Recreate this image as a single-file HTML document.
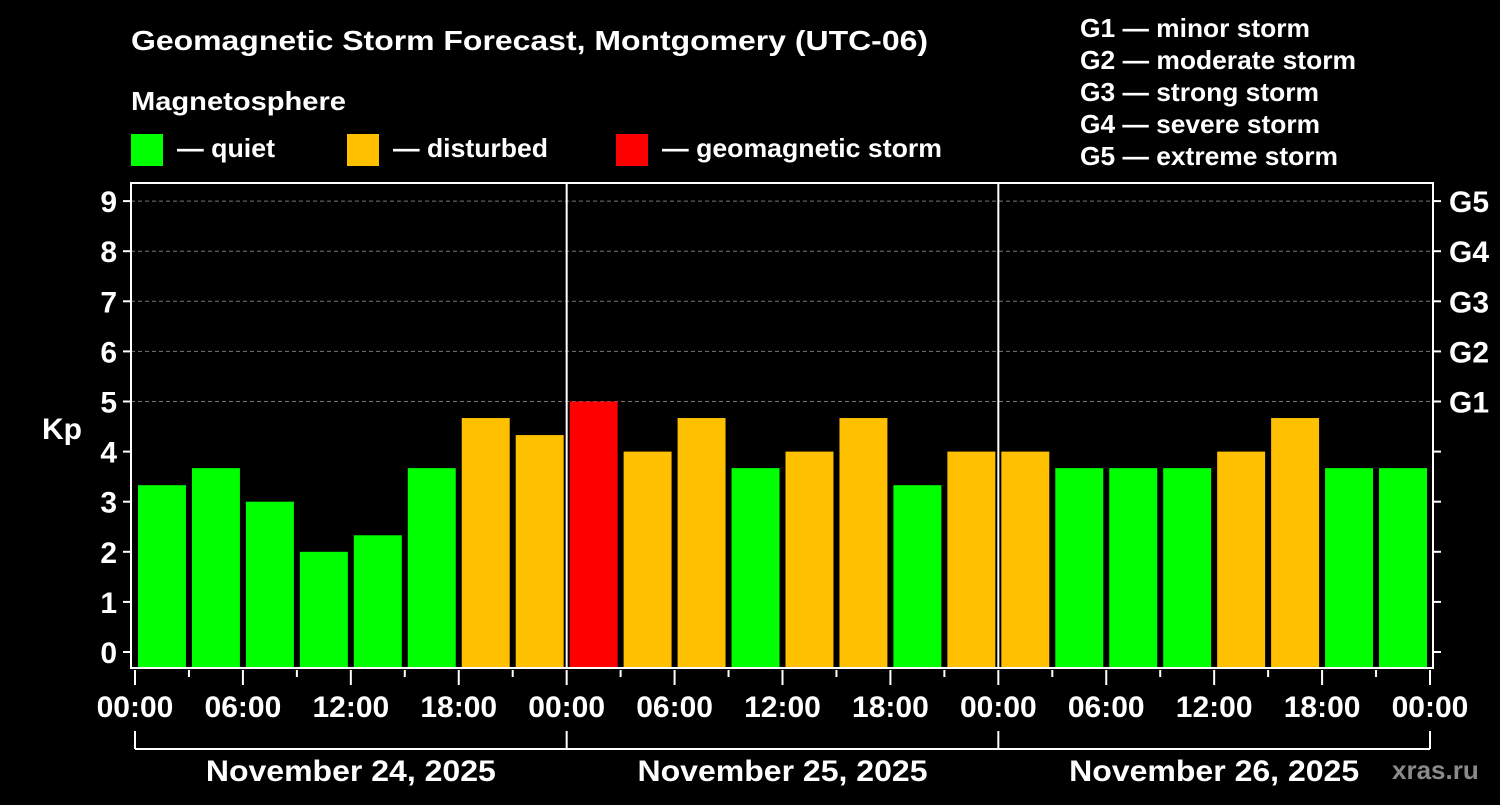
<!DOCTYPE html>
<html><head><meta charset="utf-8"><style>
body{margin:0;background:#000;width:1500px;height:800px;overflow:hidden}
svg text{font-family:"Liberation Sans",Arial,sans-serif;font-weight:bold;fill:#fff}
</style></head><body>
<svg id="chart" width="1500" height="800" xmlns="http://www.w3.org/2000/svg">
<rect width="1500" height="800" fill="#000"/>
<text x="131" y="50" font-size="28" textLength="797" lengthAdjust="spacingAndGlyphs">Geomagnetic Storm Forecast, Montgomery (UTC-06)</text>
<text x="131" y="110" font-size="26" textLength="215" lengthAdjust="spacingAndGlyphs">Magnetosphere</text>
<g><rect x="131" y="134" width="32" height="32" fill="#00ff00"/><text x="177" y="157" font-size="26" textLength="98" lengthAdjust="spacingAndGlyphs">— quiet</text></g>
<g><rect x="347" y="134" width="32" height="32" fill="#ffc000"/><text x="393" y="157" font-size="26" textLength="155" lengthAdjust="spacingAndGlyphs">— disturbed</text></g>
<g><rect x="616" y="134" width="32" height="32" fill="#ff0000"/><text x="662" y="157" font-size="26" textLength="280" lengthAdjust="spacingAndGlyphs">— geomagnetic storm</text></g>
<g font-size="26">
<text x="1080" y="37" textLength="230" lengthAdjust="spacingAndGlyphs">G1 — minor storm</text>
<text x="1080" y="69" textLength="276" lengthAdjust="spacingAndGlyphs">G2 — moderate storm</text>
<text x="1080" y="101" textLength="239" lengthAdjust="spacingAndGlyphs">G3 — strong storm</text>
<text x="1080" y="133" textLength="240" lengthAdjust="spacingAndGlyphs">G4 — severe storm</text>
<text x="1080" y="165" textLength="258" lengthAdjust="spacingAndGlyphs">G5 — extreme storm</text>
</g>
<text x="42" y="439" font-size="30">Kp</text>
<text x="1392" y="779" font-size="26" style="fill:#8a8a8a">xras.ru</text>
<g id="grid"></g><g id="bars"></g><g id="axes"></g>
</svg>
<script>
const kpValues=[3.33,3.67,3,2,2.33,3.67,4.67,4.33, 5,4,4.67,3.67,4,4.67,3.33,4, 4,3.67,3.67,3.67,4,4.67,3.67,3.67];
const dayLabels=["November 24, 2025","November 25, 2025","November 26, 2025"];
const hourLabels=["00:00","06:00","12:00","18:00"];
const gLabels=["G1","G2","G3","G4","G5"];
const yTicks=[0,1,2,3,4,5,6,7,8,9];
const NS="http://www.w3.org/2000/svg";
const X0=135,X1=1430,PL=131,PR=1433,PT=183,PB=668;
const xs=i=>X0+(X1-X0)*i/kpValues.length;
const ys=v=>652-v*50.1;
function mk(tag,attrs,parent){const e=document.createElementNS(NS,tag);for(const k in attrs)e.setAttribute(k,attrs[k]);document.getElementById(parent).appendChild(e);return e;}
const col=v=>v>=5?"#ff0000":v>=4?"#ffc000":"#00ff00";
yTicks.forEach(t=>{
 if(t>=5){const l=mk("line",{x1:PL,x2:PR,y1:ys(t),y2:ys(t),stroke:"#777","stroke-dasharray":"4,3","stroke-width":1},"grid");
 
 }
 mk("line",{x1:PL-8,x2:PL,y1:ys(t),y2:ys(t),stroke:"#fff","stroke-width":2},"axes");
 mk("line",{x1:PR,x2:PR+8,y1:ys(t),y2:ys(t),stroke:"#fff","stroke-width":2},"axes");
 const tx=mk("text",{x:PL-14,y:ys(t)+11,"font-size":30,"text-anchor":"end"},"axes");tx.textContent=t;
 
 
 if(t>=5){const g=mk("text",{x:PR+16,y:ys(t)+11,"font-size":30},"axes");g.textContent=gLabels[t-5];
 
 }
});
kpValues.forEach((v,i)=>{
 const r=mk("rect",{x:xs(i)+3,y:ys(v),width:(X1-X0)/kpValues.length-6,height:PB-ys(v),fill:col(v)},"bars");
 
 
});
mk("rect",{x:PL,y:PT,width:PR-PL,height:PB-PT,fill:"none",stroke:"#fff","stroke-width":2},"axes");
for(let d=1;d<dayLabels.length;d++){const p=xs(d*8);mk("line",{x1:p,x2:p,y1:PT,y2:PB,stroke:"#fff","stroke-width":2},"axes");}
for(let i=0;i<=kpValues.length;i++){
 const p=xs(i),major=i%2==0;
 mk("line",{x1:p,x2:p,y1:PB+2,y2:PB+(major?17:9),stroke:"#fff","stroke-width":2},"axes");
 if(major){const t=mk("text",{x:p,y:717,"font-size":30,"text-anchor":"middle"},"axes");t.textContent=hourLabels[(i/2)%4];
 
 }
}
mk("line",{x1:X0,x2:X1,y1:749,y2:749,stroke:"#fff","stroke-width":2},"axes");
for(let d=0;d<=dayLabels.length;d++){mk("line",{x1:xs(d*8),x2:xs(d*8),y1:731,y2:749,stroke:"#fff","stroke-width":2},"axes");}
dayLabels.forEach((s,d)=>{const t=mk("text",{x:(xs(d*8)+xs(d*8+8))/2,y:781,"font-size":30,"text-anchor":"middle",textLength:290,lengthAdjust:"spacingAndGlyphs"},"axes");t.textContent=s;
 
 });
</script>
</body></html>
